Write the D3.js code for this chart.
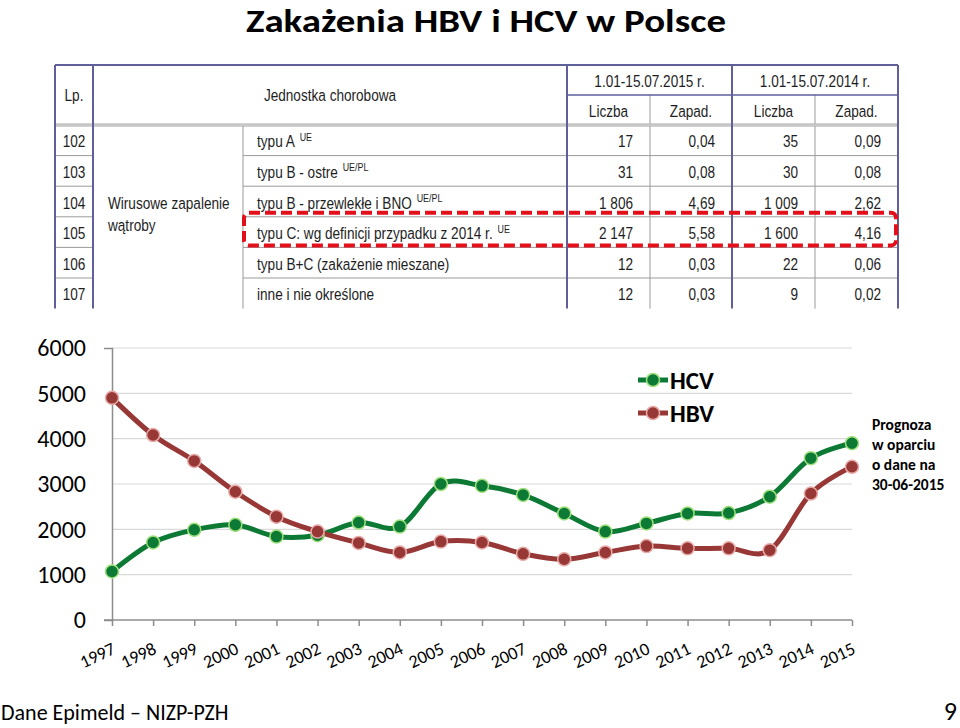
<!DOCTYPE html>
<html>
<head>
<meta charset="utf-8">
<script src="https://cdn.jsdelivr.net/npm/d3@7"></script>
<style>
  html, body { margin: 0; padding: 0; background: #fff; }
  svg { display: block; }
</style>
</head>
<body>
<svg id="chart" width="960" height="728"></svg>
<script>
// ---------------- DATA ----------------
const years = ["1997","1998","1999","2000","2001","2002","2003","2004","2005","2006",
               "2007","2008","2009","2010","2011","2012","2013","2014","2015"];
const hcv = [1070,1710,1990,2100,1840,1870,2150,2060,3000,2960,2760,2350,1950,2130,2350,2360,2720,3570,3900];
const hbv = [4900,4080,3510,2830,2280,1950,1700,1490,1730,1710,1460,1340,1490,1630,1580,1580,1540,2790,3380];
const yTicks = [0,1000,2000,3000,4000,5000,6000];
const seriesNames = ["HCV","HBV"];

const tableHeadPeriods = ["1.01-15.07.2015 r.","1.01-15.07.2014 r."];
const tableHeadSub = ["Liczba","Zapad.","Liczba","Zapad."];
const tableLp = ["102","103","104","105","106","107"];
const tableNames = ["typu A","typu B - ostre","typu B - przewlekłe i BNO","typu C: wg definicji przypadku z 2014 r.","typu B+C (zakażenie mieszane)","inne i nie określone"];
const tableSup = ["UE","UE/PL","UE/PL","UE","",""];
const tableLiczba2015 = ["17","31","1 806","2 147","12","12"];
const tableZapad2015 = ["0,04","0,08","4,69","5,58","0,03","0,03"];
const tableLiczba2014 = ["35","30","1 009","1 600","22","9"];
const tableZapad2014 = ["0,09","0,08","2,62","4,16","0,06","0,02"];

// ---------------- SETUP ----------------
const svg = d3.select("#chart");
const CAL = "Carlito, Calibri, Lato, sans-serif";
const ARIAL = "'Liberation Sans', Arial, sans-serif";

svg.append("rect").attr("width",960).attr("height",728).attr("fill","#fff");

// Title
svg.append("text").attr("x",486).attr("y",32).attr("text-anchor","middle")
  .attr("font-family",CAL).attr("font-weight","bold").attr("font-size",32)
  .attr("textLength",480).attr("lengthAdjust","spacingAndGlyphs")
  .attr("fill","#000").text("Zakażenia HBV i HCV w Polsce");

// ---------------- TABLE ----------------
const T = svg.append("g").attr("font-family",ARIAL).attr("fill","#1e1e1e");
const colX = [55,93,243,567,650,732,815,898];
const headTop = 65, headMid = 95, headBot = 125;
const rowH = 30.6;
const nRows = tableLp.length;
const tBot = headBot + nRows*rowH;
const blue = "#5f5f9c", grayL = "#9a9a9a";
const NARROW_SCALE = 0.81;
const TFS = 16.8;

function line(x1,y1,x2,y2,c,w){ T.append("line").attr("x1",x1).attr("y1",y1).attr("x2",x2).attr("y2",y2).attr("stroke",c).attr("stroke-width",w); }
function ntext(xx,yy,anchor){
  return T.append("g").attr("transform",`translate(${xx},${yy}) scale(${NARROW_SCALE},1)`)
    .append("text").attr("text-anchor",anchor).attr("dy","0.36em").attr("font-size",TFS);
}

// row lines
for (let i=1;i<nRows;i++){
  const yy = headBot + i*rowH;
  line(colX[0],yy,colX[1],yy,grayL,1);
  line(colX[2],yy,colX[7],yy,grayL,1);
}
// thin verticals
line(colX[2],headBot,colX[2],tBot,grayL,1);
line(colX[4],headMid,colX[4],tBot,grayL,1);
line(colX[6],headMid,colX[6],tBot,grayL,1);
// header mid line
line(colX[3],headMid,colX[7],headMid,blue,1.5);
// header bottom double
line(colX[0],headBot,colX[7],headBot,"#a8a8a8",3);
line(colX[0],headBot,colX[7],headBot,"#e6e6e6",1);
// thick blue borders
line(colX[0],headTop,colX[7],headTop,blue,2);
[0,1,3,5,7].forEach(k=>line(colX[k],headTop,colX[k],tBot,blue,2));

// header texts
ntext((colX[0]+colX[1])/2,(headTop+headBot)/2,"middle").text("Lp.");
ntext((colX[1]+colX[3])/2,(headTop+headBot)/2,"middle").text("Jednostka chorobowa");
tableHeadPeriods.forEach((p,i)=>{
  ntext((colX[3+2*i]+colX[5+2*i])/2,(headTop+headMid)/2+1,"middle").text(p);
});
tableHeadSub.forEach((s,i)=>{
  ntext((colX[3+i]+colX[4+i])/2,(headMid+headBot)/2+1,"middle").text(s);
});
// merged cell
ntext(108,203,"start").text("Wirusowe zapalenie");
ntext(108,225,"start").text("wątroby");

// rows
tableLp.forEach((lp,i)=>{
  const cy = headBot + i*rowH + rowH/2 + 1;
  ntext((colX[0]+colX[1])/2,cy,"middle").text(lp);
  const t = ntext(colX[2]+14,cy,"start");
  t.append("tspan").text(tableNames[i]);
  if (tableSup[i]) t.append("tspan").attr("dx",6).attr("dy","-0.6em").attr("font-size",11).text(tableSup[i]);
  [tableLiczba2015,tableZapad2015,tableLiczba2014,tableZapad2014].forEach((arr,k)=>{
    ntext(colX[4+k]-17,cy,"end").text(arr[i]);
  });
});
// red dashed highlight around row 105
const hiRow = 3;
svg.append("rect").attr("x",244).attr("y",headBot+hiRow*rowH-4).attr("width",652).attr("height",rowH+2)
  .attr("rx",5).attr("fill","none").attr("stroke","#e3101b").attr("stroke-width",4)
  .attr("stroke-dasharray","11,5");

// ---------------- CHART ----------------
const x = d3.scalePoint().domain(years).range([112,852]);
const y = d3.scaleLinear().domain([0,6000]).range([620,348]);
const G = svg.append("g");

// gridlines
G.append("g").selectAll("line").data(yTicks.filter(d=>d>0)).join("line")
  .attr("x1",112).attr("x2",852).attr("y1",d=>y(d)).attr("y2",d=>y(d))
  .attr("stroke","#d9d9d9").attr("stroke-width",1.2);

// y axis
const yAxis = G.append("g").attr("transform","translate(112,0)")
  .call(d3.axisLeft(y).tickValues(yTicks).tickFormat(d3.format("d"))
    .tickSizeInner(0).tickSizeOuter(8).tickPadding(26));
yAxis.select(".domain").attr("stroke","#8c8c8c").attr("stroke-width",1.5);
yAxis.selectAll("text").attr("font-family",CAL).attr("font-size",24).attr("fill","#000");

// x axis
const xAxis = G.append("g").attr("transform","translate(0,620)")
  .call(d3.axisBottom(x).tickSizeInner(6).tickSizeOuter(0));
xAxis.select(".domain").attr("stroke","#8c8c8c").attr("stroke-width",1.5)
  .attr("d","M104,0H852");
xAxis.selectAll(".tick line").attr("stroke","#8c8c8c").attr("stroke-width",1.5);
xAxis.selectAll("text").attr("font-family",CAL).attr("font-size",18).attr("fill","#000")
  .attr("text-anchor","end").attr("dy",null).attr("y",0)
  .attr("transform","translate(4,33) rotate(-25)");

// series
const series = [
  {name:"HCV", values:hcv, line:"#0c7a35", fill:"#0c7a35", stroke:"#9fe07c"},
  {name:"HBV", values:hbv, line:"#973836", fill:"#973836", stroke:"#e8aaa8"}
];
const lineGen = d3.line().x((d,i)=>x(years[i])).y(d=>y(d)).curve(d3.curveCatmullRom.alpha(0));

series.forEach(s=>{
  G.append("path").attr("d",lineGen(s.values)).attr("fill","none")
    .attr("stroke",s.line).attr("stroke-width",5).attr("stroke-linejoin","round");
});
series.forEach(s=>{
  G.append("g").selectAll("circle").data(s.values).join("circle")
    .attr("cx",(d,i)=>x(years[i])).attr("cy",d=>y(d)).attr("r",6.5)
    .attr("fill",s.fill).attr("stroke",s.stroke).attr("stroke-width",1.5);
});

// legend
const L = svg.append("g");
series.forEach((s,i)=>{
  const cy = 380 + i*33;
  L.append("line").attr("x1",638).attr("x2",668).attr("y1",cy).attr("y2",cy)
    .attr("stroke",s.line).attr("stroke-width",5);
  L.append("circle").attr("cx",653).attr("cy",cy).attr("r",6.5)
    .attr("fill",s.fill).attr("stroke",s.stroke).attr("stroke-width",1.5);
  L.append("text").attr("x",670).attr("y",cy).attr("dy","0.36em")
    .attr("font-family",CAL).attr("font-weight","bold").attr("font-size",25)
    .attr("fill","#000").text(seriesNames[i]);
});

// annotation
const notes = ["Prognoza","w oparciu","o dane na","30-06-2015"];
svg.append("g").selectAll("text").data(notes).join("text")
  .attr("x",872).attr("y",(d,i)=>430+i*20)
  .attr("font-family",CAL).attr("font-weight","bold").attr("font-size",15.5)
  .attr("fill","#000").text(d=>d);

// footer
svg.append("text").attr("x",1).attr("y",720).attr("font-family",CAL).attr("font-size",22)
  .attr("fill","#000").text("Dane Epimeld – NIZP-PZH");
svg.append("text").attr("x",957).attr("y",720).attr("text-anchor","end").attr("font-family",CAL)
  .attr("font-size",26).attr("fill","#000").text("9");
</script>
</body>
</html>
